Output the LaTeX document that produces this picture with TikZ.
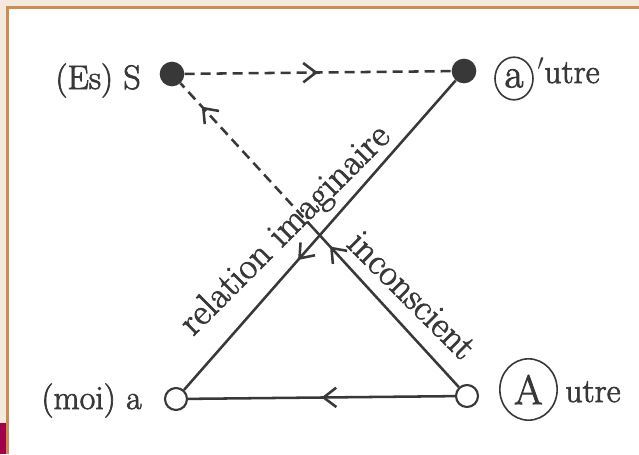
\documentclass[tikz,border=0pt]{standalone}
\usepackage{fontspec}
\usetikzlibrary{arrows.meta,decorations.markings,shapes.geometric}
\newfontfamily\schemafont{Latin Modern Roman}[FakeBold=2]
\definecolor{ink}{HTML}{383838}
\definecolor{paper}{HTML}{F3E9DD}
\definecolor{rim}{HTML}{D08A55}
\definecolor{plum}{HTML}{A1004A}
\tikzset{
  midarrow/.style={postaction={decorate,decoration={markings,
      mark=at position #1 with {\arrow{Straight Barb[length=9.5pt,width=14.5pt]}}}}},
  dashline/.style={dash pattern=on 7.5pt off 4.5pt},
  lab/.style={ink,inner sep=0pt,font=\schemafont\fontsize{25.5}{30}\selectfont},
  rel/.style={ink,inner sep=0pt,font=\schemafont\fontsize{28}{33}\selectfont},
  ring/.style={draw=ink,ink,ellipse,line width=1.2pt,inner sep=0pt,font=\schemafont\fontsize{31}{36}\selectfont}
}
\begin{document}
\begin{tikzpicture}[x=0.75pt,y=-0.75pt]
        \useasboundingbox (0,0) rectangle (639,454);
        % frame
        \fill[paper] (0,0) rectangle (639,454);
        \fill[white] (9,9) rectangle (639,454);
        \fill[plum] (0,423) rectangle (6.5,454);
        \draw[rim,line width=2pt] (7.8,454) -- (7.8,7.8) -- (639,7.8);

        \begin{scope}[every node/.style={circle,fill=ink,inner sep=0pt,minimum size=18.5pt}]
          \node at (172,74) (S){};
          \node at (464,71) (ap){};
        \end{scope}

        \begin{scope}[every node/.style={circle,draw=ink,fill=white,line width=1.6pt,inner sep=0pt,minimum size=16.5pt}]
          \node at (176,399) (moi){};
          \node at (467,396) (A){};
        \end{scope}

        \begin{scope}[ink,line width=1.9pt]
          \path (S) edge[dashline,midarrow=0.5] (ap);
          \path (ap) edge[midarrow=0.58] (moi);
          \path (A) edge[midarrow=0.5] (moi);
          \path (A) -- coordinate[pos=0.52] (brk) (S);
          \path (A) edge[midarrow=0.89] (brk);
          \path (brk) edge[dashline,midarrow=0.84] (S);
        \end{scope}

        % labels
        \node[lab,anchor=base east] at (141,89) (es){(Es) S};
        \node[lab,anchor=base east] at (142,409) (moilab){(moi) a};
        \node[ring,minimum width=28.5pt,minimum height=32pt] at (514,78.5) (acirc){a};
        \node[lab,anchor=base west] at (537,83) (autre){${}'$utre};
        \node[ring,minimum width=43pt,minimum height=46pt] at (528.5,389.5) (Acirc){A};
        \node[lab,anchor=base west] at (565,402) (Autre){utre};
        \node[rel,anchor=base,rotate=45] at (292.5,237.5) (imag){relation imaginaire};
        \node[rel,anchor=base,rotate=-45] at (403.5,303.5) (inc){inconscient};
      \end{tikzpicture}
\end{document}
